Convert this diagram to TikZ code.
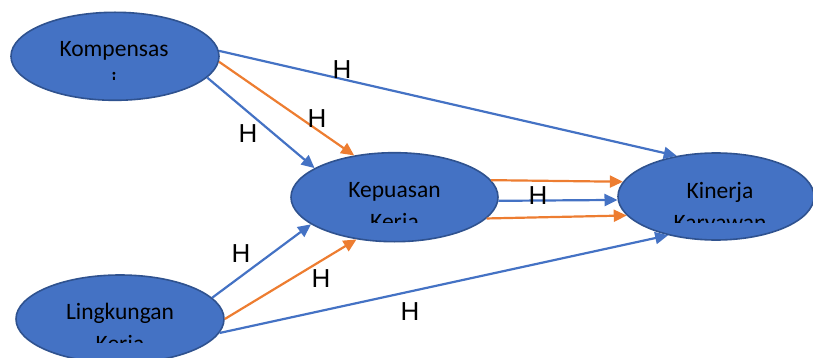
\documentclass[tikz,border=0pt]{standalone}
\usepackage{fontspec}
\setmainfont{Carlito}
\newfontfamily\hfont{Liberation Sans}
\usetikzlibrary{shapes.geometric,arrows.meta}
\definecolor{ofblue}{HTML}{4472C4}
\definecolor{ofedge}{HTML}{2F528F}
\definecolor{oforange}{HTML}{ED7D31}
\tikzset{
  var/.style={ellipse, draw=ofedge, line width=1.6pt, fill=ofblue, inner sep=0pt},
  vartext/.style={anchor=base, inner sep=0pt, font=\fontsize{23.5}{28}\selectfont, text=black},
  hlabel/.style={font=\hfont\fontsize{26}{30}\selectfont, inner sep=0pt},
  bluearrow/.style={draw=ofblue, line width=2.2pt, -{Triangle[length=13pt,width=12pt]}},
  orangearrow/.style={draw=oforange, line width=2.2pt, -{Triangle[length=13pt,width=12pt]}},
}
\begin{document}
\begin{tikzpicture}[x=1pt,y=1pt]
\useasboundingbox (0,0) rectangle (813,-358);

% constructs
\node[var, minimum width=208pt, minimum height=88pt] (komp) at (115,-56.3) {};
\node[var, minimum width=207pt, minimum height=89pt] (kep)  at (394.5,-197.2) {};
\node[var, minimum width=196pt, minimum height=87pt] (kin)  at (716,-196.5) {};
\node[var, minimum width=208pt, minimum height=88pt] (ling) at (120,-319) {};

% construct names, second line cut by the text frame
\begin{scope}
  \clip (10,0) rectangle (220,-80);
  \node[vartext] (kompA) at (114,-57) {Kompensas};
  \node[vartext] (kompB) at (114,-89) {i};
\end{scope}
\begin{scope}
  \clip (290,-150) rectangle (500,-222);
  \node[vartext] (kepA) at (394.5,-197) {Kepuasan};
  \node[vartext] (kepB) at (394.5,-229) {Kerja};
\end{scope}
\begin{scope}
  \clip (615,-150) rectangle (813,-222);
  \node[vartext] (kinA) at (720,-198) {Kinerja};
  \node[vartext] (kinB) at (720,-230) {Karyawan};
\end{scope}
\begin{scope}
  \clip (15,-270) rectangle (225,-342);
  \node[vartext] (lingA) at (120,-319) {Lingkungan};
  \node[vartext] (lingB) at (120,-351) {Kerja};
\end{scope}

% paths
\draw[bluearrow]   (komp.3)    -- (kin.134);
\draw[orangearrow] (komp.-3)   -- (kep.134);
\draw[bluearrow]   (komp.-13)  -- (kep.160);
\draw[orangearrow] (kep.10)    -- (kin.171);
\draw[bluearrow]   (kep.-2)    -- (kin.182);
\draw[orangearrow] (kep.-13.6) -- (kin.192.3);
\draw[bluearrow]   (ling.13)   -- (kep.198.4);
\draw[orangearrow] (ling.0)    -- (kep.228);
\draw[bluearrow]   (ling.-8.7) -- (kin.219.7);

% hypothesis labels
\node[hlabel] (h1) at (342,-70)  {H};
\node[hlabel] (h2) at (317,-119) {H};
\node[hlabel] (h3) at (248,-134) {H};
\node[hlabel] (h4) at (538,-196) {H};
\node[hlabel] (h5) at (241,-254) {H};
\node[hlabel] (h6) at (321,-279) {H};
\node[hlabel] (h7) at (410,-312) {H};
\end{tikzpicture}
\end{document}
